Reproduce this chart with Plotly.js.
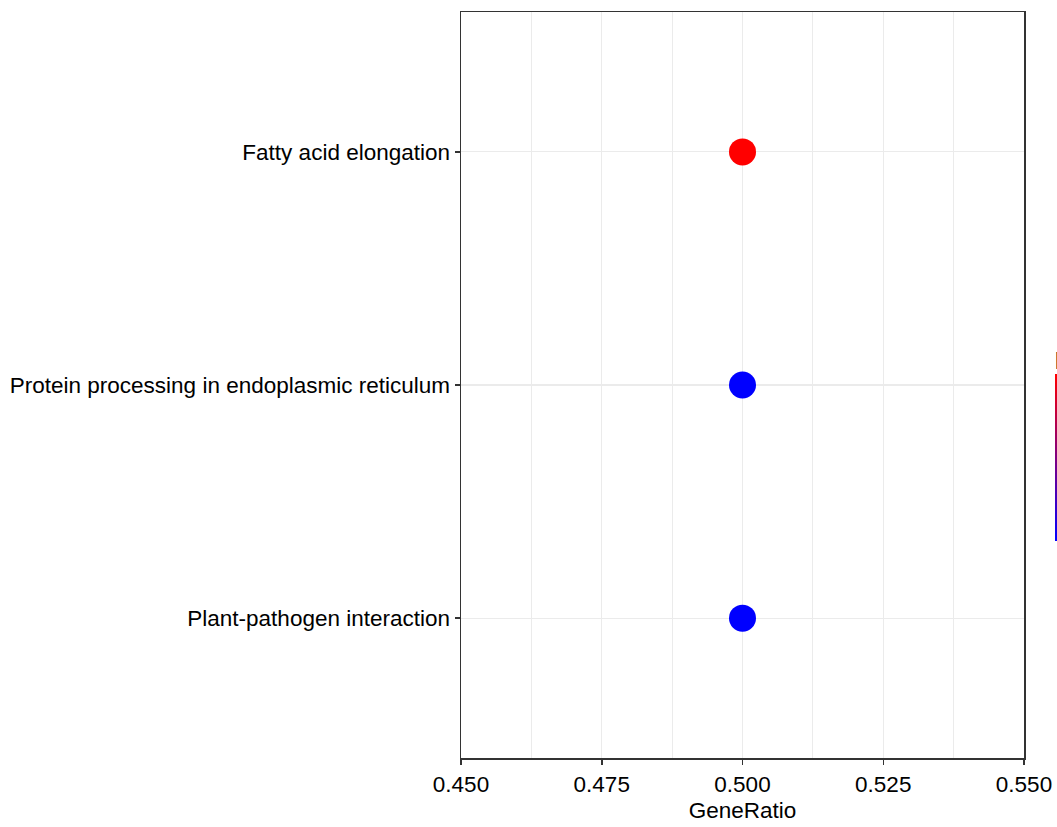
<!DOCTYPE html>
<html>
<head>
<meta charset="utf-8">
<script src="https://cdn.plot.ly/plotly-3.0.1.min.js"></script>
<style>html,body{margin:0;padding:0;background:#fff;}#chart{width:1057px;height:827px;}</style>
</head>
<body>
<div id="chart"></div>
<script>
// Data
const pathways = ["Plant-pathogen interaction", "Protein processing in endoplasmic reticulum", "Fatty acid elongation"];
const geneRatio = [0.5, 0.5, 0.5];
const pAdjust = [0.045, 0.045, 0.02];
const xTicks = [0.45, 0.475, 0.5, 0.525, 0.55];
const xTickLabels = ["0.450", "0.475", "0.500", "0.525", "0.550"];

const font = "Liberation Sans, Arial, sans-serif";
const fs = 22.5;
const pMin = Math.min(...pAdjust), pMax = Math.max(...pAdjust);

const points = {
  type: "scatter", mode: "markers",
  x: geneRatio, y: pathways,
  marker: {size: 27, color: pAdjust, cmin: pMin, cmax: pMax,
           colorscale: [[0, "rgb(255,0,0)"], [1, "rgb(0,0,255)"]], showscale: false,
           line: {width: 0}},
  hoverinfo: "x+y", showlegend: false
};
// colour bar shown reversed (low p.adjust at top), as in the reference
const bar = {
  type: "scatter", mode: "markers", x: [null], y: [null],
  marker: {color: pAdjust, cmin: pMin, cmax: pMax,
           colorscale: [[0, "rgb(0,0,255)"], [1, "rgb(255,0,0)"]], showscale: true,
           colorbar: {x: 1.0551, xanchor: "left", xpad: 0, y: 0.423, yanchor: "middle", ypad: 0,
                      len: 197, lenmode: "pixels", thickness: 22, outlinewidth: 0,
                      ticks: "inside", ticklen: 5, tickcolor: "#ffffff", showticklabels: false,
                      title: {text: "p.adjust", side: "top", font: {family: font, size: fs, color: "#000"}}}},
  hoverinfo: "skip", showlegend: false
};

const layout = {
  width: 1057, height: 827,
  paper_bgcolor: "#ffffff", plot_bgcolor: "#ffffff",
  margin: {l: 461, r: 33, t: 12, b: 69, pad: 0, autoexpand: false},
  font: {family: font, color: "#000"},
  xaxis: {
    range: [0.45, 0.55], tickvals: xTicks, ticktext: xTickLabels,
    showgrid: true, gridcolor: "#ebebeb", gridwidth: 1.2,
    minor: {dtick: 0.0125, tick0: 0.45, showgrid: true, gridcolor: "#ebebeb", gridwidth: 1},
    zeroline: false, showline: true, mirror: true, linecolor: "#333333", linewidth: 1.5,
    ticks: "outside", ticklen: 5, tickwidth: 1.5, tickcolor: "#333333",
    tickfont: {family: font, size: fs, color: "#000"},
    automargin: false,
    title: {text: "GeneRatio", font: {family: font, size: fs, color: "#000"}, standoff: 6}
  },
  yaxis: {
    type: "category", categoryorder: "array", categoryarray: pathways,
    range: [-0.6, 2.6],
    showgrid: true, gridcolor: "#ebebeb", gridwidth: 1.2,
    zeroline: false, showline: true, mirror: true, linecolor: "#333333", linewidth: 1.5,
    ticks: "outside", ticklen: 5, tickwidth: 1.5, tickcolor: "#333333",
    automargin: false,
    tickfont: {family: font, size: fs, color: "#000"}
  },
  annotations: [
    {text: "Count", xref: "paper", yref: "paper", x: 1.0551, y: (758 - 243) / 746,
     xanchor: "left", yanchor: "middle", showarrow: false,
     font: {family: font, size: fs, color: "#000"}}
  ]
};

Plotly.newPlot("chart", [points, bar], layout, {displayModeBar: false, staticPlot: true});
</script>
</body>
</html>
